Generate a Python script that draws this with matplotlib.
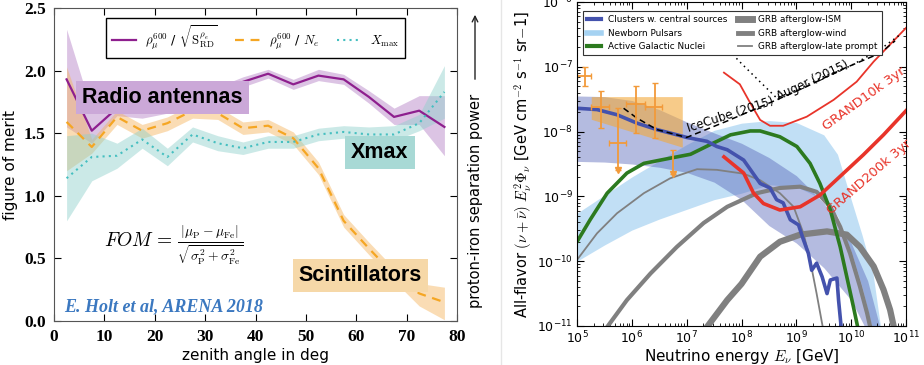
import numpy as np
import matplotlib.pyplot as plt
from matplotlib.lines import Line2D
from matplotlib.font_manager import FontProperties

# ---- left panel: figure of merit vs zenith angle ----
zenith = [2.5, 7.5, 12.5, 17.5, 22.5, 27.5, 32.5, 37.5, 42.5, 47.5, 52.5, 57.5, 62.5, 67.5, 72.5, 77.5]

radio = [1.93, 1.52, 1.70, 1.67, 1.71, 1.77, 1.82, 1.91, 1.975, 1.89, 1.96, 1.93, 1.79, 1.63, 1.68, 1.55]
radio_lo = [1.55, 1.42, 1.64, 1.62, 1.66, 1.72, 1.77, 1.87, 1.94, 1.85, 1.92, 1.89, 1.74, 1.57, 1.57, 1.32]
radio_hi = [2.33, 1.68, 1.76, 1.72, 1.76, 1.82, 1.87, 1.95, 2.01, 1.93, 2.01, 1.97, 1.84, 1.70, 1.80, 1.80]

scint = [1.59, 1.39, 1.63, 1.52, 1.58, 1.68, 1.66, 1.54, 1.56, 1.46, 1.22, 0.80, 0.58, 0.37, 0.22, 0.15]
scint_lo = [1.20, 1.34, 1.57, 1.46, 1.52, 1.62, 1.61, 1.49, 1.51, 1.41, 1.17, 0.75, 0.53, 0.32, 0.12, 0.01]
scint_hi = [2.03, 1.45, 1.68, 1.57, 1.63, 1.73, 1.71, 1.59, 1.61, 1.51, 1.27, 0.85, 0.63, 0.42, 0.30, 0.27]

xmax = [1.14, 1.31, 1.32, 1.45, 1.31, 1.49, 1.42, 1.38, 1.43, 1.43, 1.49, 1.51, 1.49, 1.49, 1.58, 1.83]
xmax_lo = [0.80, 1.12, 1.22, 1.38, 1.24, 1.43, 1.36, 1.33, 1.38, 1.38, 1.44, 1.46, 1.44, 1.44, 1.52, 1.62]
xmax_hi = [1.48, 1.50, 1.42, 1.54, 1.38, 1.55, 1.48, 1.43, 1.48, 1.48, 1.54, 1.56, 1.55, 1.56, 1.65, 2.04]

# ---- right panel: neutrino fluxes (log10 E [GeV], log10 flux) ----
clu_E = [5.0, 5.365, 5.73, 6.095, 6.46, 6.825, 7.0, 7.37, 7.55, 7.74, 8.04, 8.34, 8.52, 8.64, 8.76,
         8.89, 9.04, 9.13, 9.22, 9.28, 9.37, 9.47, 9.56, 9.62, 9.74, 9.77, 9.85]
clu_F = [-7.64, -7.66, -7.74, -7.87, -7.97, -8.05, -8.09, -8.15, -8.23, -8.28, -8.44, -8.80, -8.87, -9.05, -9.10,
         -9.36, -9.44, -9.67, -9.88, -10.14, -10.03, -10.24, -10.50, -10.29, -10.26, -10.60, -11.3]
clu_band_E = [5.0, 5.5, 6.0, 6.5, 7.0, 7.5, 8.0, 8.5, 9.0, 9.5, 10.0, 10.3, 10.55]
clu_band_hi = [-7.45, -7.46, -7.52, -7.66, -7.85, -8.02, -8.18, -8.40, -8.68, -9.10, -9.72, -10.3, -11.1]
clu_band_lo = [-8.46, -8.47, -8.50, -8.55, -8.63, -8.78, -9.05, -9.45, -9.72, -10.10, -10.60, -11.1, -11.5]

psr_E = [5.0, 5.5, 6.0, 6.5, 7.0, 7.5, 8.0, 8.5, 9.0, 9.5, 9.75, 10.0, 10.2, 10.4, 10.55]
psr_hi = [-9.26, -8.98, -8.70, -8.45, -8.20, -7.98, -7.87, -7.83, -7.86, -8.05, -8.35, -9.05, -9.60, -10.20, -11.1]
psr_lo = [-10.0, -9.75, -9.52, -9.35, -9.20, -9.05, -8.95, -8.82, -8.85, -9.05, -9.30, -9.85, -10.40, -11.1, -11.5]

agn_E = [5.0, 5.24, 5.55, 5.91, 6.22, 6.70, 7.07, 7.43, 7.80, 8.16, 8.34, 8.70, 9.01, 9.25, 9.43,
         9.62, 9.80, 9.92, 10.04, 10.14]
agn_F = [-9.70, -9.36, -8.95, -8.64, -8.49, -8.41, -8.35, -8.20, -8.05, -7.99, -7.99, -8.08, -8.23, -8.49, -8.80,
         -9.21, -9.78, -10.24, -10.70, -11.1]

prompt_E = [5.0, 5.365, 5.73, 6.22, 6.70, 7.19, 7.55, 8.04, 8.34, 8.70, 8.95, 9.13, 9.25, 9.37, 9.50]
prompt_F = [-9.98, -9.57, -9.26, -8.95, -8.72, -8.58, -8.59, -8.65, -8.75, -8.95, -9.16, -9.57, -9.98, -10.5, -11.1]

wind_E = [5.52, 5.91, 6.34, 6.82, 7.31, 7.74, 8.28, 8.70, 9.07, 9.37, 9.62, 9.80, 9.98, 10.16, 10.29, 10.37]
wind_F = [-11.05, -10.60, -10.19, -9.78, -9.41, -9.16, -8.95, -8.87, -8.85, -8.93, -9.16, -9.47, -9.88, -10.39, -10.80, -11.1]

ism_E = [7.34, 7.74, 8.0, 8.34, 8.70, 9.07, 9.56, 9.92, 10.16, 10.41, 10.59, 10.71, 10.80]
ism_F = [-11.05, -10.60, -10.35, -9.93, -9.70, -9.59, -9.54, -9.59, -9.78, -10.08, -10.44, -10.75, -11.1]

g200_E = [7.68, 8.04, 8.22, 8.40, 8.70, 9.07, 9.43, 9.80, 10.22, 10.59, 11.02]
g200_F = [-8.39, -8.64, -8.95, -9.11, -9.21, -9.16, -8.98, -8.69, -8.36, -8.05, -7.66]

g10_E = [7.68, 7.97, 8.16, 8.34, 8.52, 8.76, 9.19, 9.68, 10.10, 10.41, 11.0]
g10_F = [-7.09, -7.27, -7.56, -7.82, -7.91, -7.91, -7.77, -7.51, -7.23, -6.92, -6.40]

auger_E = [7.60, 7.76, 8.0, 8.3, 8.64, 9.0, 9.5, 9.98, 10.53, 10.9]
auger_F = [-6.55, -6.74, -6.95, -7.20, -7.48, -7.36, -7.15, -6.99, -6.73, -6.50]

icecube_E = [5.85, 6.09, 6.46, 7.0, 7.7, 8.2, 8.64, 9.2, 9.8, 10.53, 10.8]
icecube_F = [-7.64, -7.79, -7.97, -8.09, -7.85, -7.67, -7.51, -7.30, -7.05, -6.79, -6.60]

# IceCube data points (center, lower/upper edges)
pts_E = [5.14, 5.445, 5.749, 6.084, 6.419]
pts_Elo = [5.00, 5.262, 5.585, 5.902, 6.237]
pts_Ehi = [5.26, 5.585, 5.902, 6.237, 6.553]
pts_F = [-7.144, -7.627, -8.183, -7.581, -7.617]
pts_Flo = [-7.293, -7.951, -8.60, -8.028, -8.105]
pts_Fhi = [-6.996, -7.370, -7.643, -7.298, -7.257]
lim_E = [6.742]
lim_F = [-8.285]
lim_Flo = [-8.66]

fit_E = [5.26, 6.92]
fit_hi = [-7.46, -7.46]
fit_lo = [-7.81, -8.24]


def p10(a):
    return 10.0 ** np.asarray(a)


fig = plt.figure(figsize=(9.24, 3.65), dpi=100)

# ================= left panel =================
ax = fig.add_axes([54 / 924, 1 - 321 / 365, 403 / 924, 313 / 365])
purple, orange, teal = '#8e1f8e', '#f5a623', '#45bfc0'
ax.fill_between(zenith, radio_lo, radio_hi, color='#b27cc4', alpha=0.45, lw=0)
ax.fill_between(zenith, scint_lo, scint_hi, color='#f5b35a', alpha=0.45, lw=0)
ax.fill_between(zenith, xmax_lo, xmax_hi, color='#8dd0ca', alpha=0.45, lw=0)
ax.plot(zenith, radio, color=purple, lw=1.6,
        label=r'$\rho_\mu^{600}$ / $\sqrt{\mathrm{S}_{\mathrm{RD}}^{\rho_e}}$')
ax.plot(zenith, scint, color=orange, lw=1.6, ls=(0, (4, 3)),
        label=r'$\rho_\mu^{600}$ / $N_e$')
ax.plot(zenith, xmax, color=teal, lw=1.5, ls=(0, (1, 2)),
        label=r'$X_{\mathrm{max}}$')

ax.set_xlim(0, 80)
ax.set_ylim(0, 2.5)
ax.set_xticks(range(0, 81, 10))
ax.set_yticks([0, 0.5, 1.0, 1.5, 2.0, 2.5])
ax.set_yticklabels(['0.0', '0.5', '1.0', '1.5', '2.0', '2.5'])
ax.tick_params(direction='in', top=True, right=True, length=5, pad=6)
for lab in ax.get_xticklabels() + ax.get_yticklabels():
    lab.set_fontfamily('Liberation Serif')
    lab.set_fontweight('bold')
    lab.set_fontsize(12.5)
for s in ax.spines.values():
    s.set_color('#555555')
ax.set_xlabel('zenith angle in deg', fontsize=11, labelpad=2)
ax.set_ylabel('figure of merit', fontsize=11, labelpad=4)

leg = ax.legend(loc='upper center', bbox_to_anchor=(0.5, 0.99), ncol=3, frameon=True,
                fancybox=False, edgecolor='k', framealpha=1, handlelength=1.9,
                handletextpad=0.7, columnspacing=1.4, borderpad=0.45,
                prop=FontProperties(size=9.2, math_fontfamily='cm'))
leg.get_frame().set_linewidth(1.0)

lab_kw = dict(fontfamily='Liberation Sans', fontweight='bold', fontsize=15.5, va='center')
ax.text(5.6, 1.785, 'Radio antennas',
        bbox=dict(boxstyle='square,pad=0.28', fc='#cba8d8', ec='none'), **lab_kw)
ax.text(59.0, 1.345, 'Xmax',
        bbox=dict(boxstyle='square,pad=0.28', fc='#a8d9d5', ec='none'), **lab_kw)
ax.text(48.6, 0.36, 'Scintillators',
        bbox=dict(boxstyle='square,pad=0.28', fc='#f6d8a8', ec='none'), **lab_kw)
ax.text(10.0, 0.60,
        r'$FOM\,=\,\frac{|\mu_{\mathrm{P}}-\mu_{\mathrm{Fe}}|}{\sqrt{\sigma_{\mathrm{P}}^2+\sigma_{\mathrm{Fe}}^2}}$',
        fontsize=14, math_fontfamily='cm', va='center')
ax.text(2.0, 0.11, 'E. Holt et al, ARENA 2018', color='#3b78c0', fontfamily='Liberation Serif',
        fontweight='bold', style='italic', fontsize=13, va='center')

# separation power arrow and label
fig.text(475 / 924, 1 - 201 / 365, 'proton-iron separation power', rotation=90,
         ha='center', va='center', fontsize=10.5)
fig.add_artist(plt.Annotation('', xy=(475 / 924, 1 - 12 / 365), xytext=(475 / 924, 1 - 82 / 365),
                              xycoords='figure fraction',
                              arrowprops=dict(arrowstyle='->', color='#222222', lw=1.0)))
fig.add_artist(Line2D([501 / 924, 501 / 924], [0, 1], color='#e6e6e6', lw=1.0))

# ================= right panel =================
bx = fig.add_axes([577 / 924, 1 - 326 / 365, 329 / 924, 324 / 365])
bx.set_xscale('log')
bx.set_yscale('log')

bx.fill_between(p10(psr_E), p10(psr_lo), p10(psr_hi), color='#8ec6ee', alpha=0.55, lw=0)
bx.fill_between(p10(clu_band_E), p10(clu_band_lo), p10(clu_band_hi), color='#5a68bb', alpha=0.45, lw=0)
bx.fill_between(p10(fit_E), p10(fit_lo), p10(fit_hi), color='#f2a93b', alpha=0.6, lw=0)

bx.plot(p10(ism_E), p10(ism_F), color='#808080', lw=4.5)
bx.plot(p10(wind_E), p10(wind_F), color='#808080', lw=3.0)
bx.plot(p10(prompt_E), p10(prompt_F), color='#808080', lw=1.3)
bx.plot(p10(agn_E), p10(agn_F), color='#2c7a1f', lw=2.6)
bx.plot(p10(clu_E), p10(clu_F), color='#4452ad', lw=2.6)
bx.plot(p10(g200_E), p10(g200_F), color='#e8342a', lw=2.6)
bx.plot(p10(g10_E), p10(g10_F), color='#e8342a', lw=1.3)
bx.plot(p10(auger_E), p10(auger_F), color='k', lw=1.1, ls=(0, (1, 2.5)))
bx.plot(p10(icecube_E), p10(icecube_F), color='k', lw=1.1, ls=(0, (4, 2.5)))

ec = '#f29a3a'
pE, pF = p10(pts_E), p10(pts_F)
bx.errorbar(pE, pF,
            xerr=[pE - p10(pts_Elo), p10(pts_Ehi) - pE],
            yerr=[pF - p10(pts_Flo), p10(pts_Fhi) - pF],
            fmt='none', ecolor=ec, elinewidth=1.3, capsize=2, capthick=1.0)
bx.plot(p10([pts_E[2]]), p10([pts_Flo[2]]), marker='v', color=ec, ms=4, ls='none')
lE, lF = p10(lim_E), p10(lim_F)
bx.errorbar(lE, lF, yerr=[lF - p10(lim_Flo), np.zeros(1)], fmt='none', ecolor=ec,
            elinewidth=1.3, capsize=2, capthick=1.0)
bx.plot(p10(lim_E), p10(lim_Flo), marker='v', color=ec, ms=4, ls='none')

bx.text(p10(7.80), p10(-7.74), 'IceCube (2015)', rotation=18, fontsize=8.5, ha='center', va='center')
bx.text(p10(9.30), p10(-7.22), 'Auger (2015)', rotation=25, fontsize=8.5, ha='center', va='center')
bx.text(p10(10.24), p10(-7.50), 'GRAND10k 3yr', rotation=36, fontsize=9.5, color='#e8342a',
        ha='center', va='center')
bx.text(p10(10.33), p10(-8.70), 'GRAND200k 3yr', rotation=41, fontsize=9.5, color='#e8342a',
        ha='center', va='center')

bx.set_xlim(1e5, 1e11)
bx.set_ylim(1e-11, 1e-6)
bx.tick_params(which='both', direction='in', top=True, right=True, labelsize=9, pad=3)
bx.tick_params(which='major', length=5)
bx.tick_params(which='minor', length=2.5)
bx.set_xlabel(r'Neutrino energy $E_\nu$ [GeV]', fontsize=11, labelpad=0, math_fontfamily='cm')
bx.set_ylabel(r'All-flavor $(\nu+\bar{\nu})$ $E_\nu^2\Phi_\nu$ [GeV cm$^{-2}$ s$^{-1}$ sr$-$1]',
              fontsize=10.5, labelpad=2, math_fontfamily='cm')

handles = [
    Line2D([], [], color='#4452ad', lw=3, label='Clusters w. central sources'),
    Line2D([], [], color='#a5d2f2', lw=4, label='Newborn Pulsars'),
    Line2D([], [], color='#2c7a1f', lw=3, label='Active Galactic Nuclei'),
    Line2D([], [], color='#808080', lw=5, label='GRB afterglow-ISM'),
    Line2D([], [], color='#808080', lw=3.5, label='GRB afterglow-wind'),
    Line2D([], [], color='#808080', lw=1.3, label='GRB afterglow-late prompt'),
]
leg2 = bx.legend(handles=handles, loc='upper left', bbox_to_anchor=(0.005, 0.985), ncol=2,
                 fontsize=6.4, fancybox=False, edgecolor='#333333', framealpha=1,
                 handlelength=1.6, handletextpad=0.7, columnspacing=1.2, labelspacing=0.5,
                 borderpad=0.45)
leg2.get_frame().set_linewidth(0.8)

fig.savefig('out.png', dpi=100)
